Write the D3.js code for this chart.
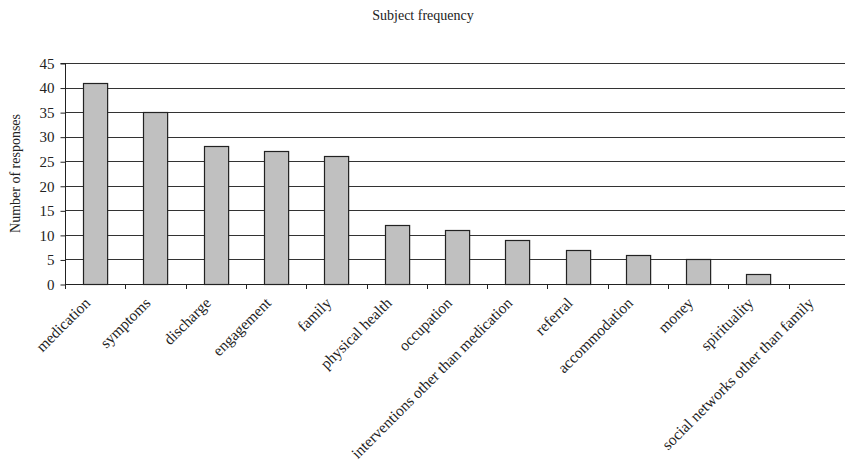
<!DOCTYPE html>
<html>
<head>
<meta charset="utf-8">
<script src="https://cdn.jsdelivr.net/npm/d3@7"></script>
<style>
  body { margin: 0; background: #fff; }
  text { font-family: "Liberation Serif", "DejaVu Serif", serif; fill: #222; }
</style>
</head>
<body>
<div id="chart"></div>
<script>
const categories = ["medication", "symptoms", "discharge", "engagement", "family",
  "physical health", "occupation", "interventions other than medication", "referral",
  "accommodation", "money", "spirituality", "social networks other than family"];
const responses = [41, 35, 28, 27, 26, 12, 11, 9, 7, 6, 5, 2, 0];
const yTicks = [0, 5, 10, 15, 20, 25, 30, 35, 40, 45];

const width = 845, height = 462;
const plotLeft = 65, plotRight = 849, plotTop = 63, plotBottom = 284;

const svg = d3.select("#chart").append("svg")
  .attr("width", width).attr("height", height);

const x = d3.scaleBand().domain(categories).range([plotLeft, plotRight])
  .paddingInner(0.6).paddingOuter(0.3);
const y = d3.scaleLinear().domain([0, 45]).range([plotBottom, plotTop]);

// gridlines
svg.append("g").selectAll("line")
  .data(yTicks.slice(1))
  .enter().append("line")
  .attr("x1", plotLeft).attr("x2", width)
  .attr("y1", d => Math.round(y(d)) + 0.5).attr("y2", d => Math.round(y(d)) + 0.5)
  .style("stroke", "#333").style("stroke-width", 1);

// bars
svg.append("g").selectAll("rect")
  .data(responses)
  .enter().append("rect")
  .attr("x", (d, i) => Math.round(x(categories[i])) + 0.5)
  .attr("y", d => Math.round(y(d)) + 0.5)
  .attr("width", x.bandwidth())
  .attr("height", d => Math.round(y(0)) - Math.round(y(d)))
  .style("fill", "#c0c0c0").style("stroke", "#222").style("stroke-width", 1.2)
  .style("display", d => d === 0 ? "none" : null);

// y axis
const yAxis = svg.append("g")
  .attr("transform", `translate(${plotLeft + 0.5},0.5)`)
  .call(d3.axisLeft(y).tickValues(yTicks).tickSize(5).tickPadding(6).tickFormat(d3.format("d")));
yAxis.select(".domain").style("stroke", "#222").attr("d", `M-5,${y(45)}H0V${y(0)}`);
yAxis.selectAll(".tick line").style("stroke", "#222");
yAxis.selectAll("text").style("font-size", "15px").style("fill", "#222")
  .style("font-family", "Liberation Serif, serif");

// x axis (ticks at band boundaries)
const step = x.step();
const boundaries = d3.range(categories.length + 1).map(i => plotLeft + i * step);
svg.append("line")
  .attr("x1", plotLeft).attr("x2", width)
  .attr("y1", Math.round(y(0)) + 0.5).attr("y2", Math.round(y(0)) + 0.5)
  .style("stroke", "#222").style("stroke-width", 1.2);
svg.append("g").selectAll("line")
  .data(boundaries)
  .enter().append("line")
  .attr("x1", d => Math.round(d) + 0.5).attr("x2", d => Math.round(d) + 0.5)
  .attr("y1", Math.round(y(0))).attr("y2", Math.round(y(0)) + 5)
  .style("stroke", "#222");

// x labels
svg.append("g").selectAll("text")
  .data(categories)
  .enter().append("text")
  .attr("transform", d => `translate(${x(d) + x.bandwidth() / 2 - 4},${plotBottom + 20}) rotate(-45)`)
  .attr("text-anchor", "end")
  .style("font-size", "15.5px")
  .text(d => d);

// title
svg.append("text")
  .attr("x", 423).attr("y", 20)
  .attr("text-anchor", "middle")
  .style("font-size", "14px")
  .text("Subject frequency");

// y axis title
svg.append("text")
  .attr("transform", `translate(20,${(plotTop + plotBottom) / 2}) rotate(-90)`)
  .attr("text-anchor", "middle")
  .style("font-size", "14px")
  .text("Number of responses");
</script>
</body>
</html>
